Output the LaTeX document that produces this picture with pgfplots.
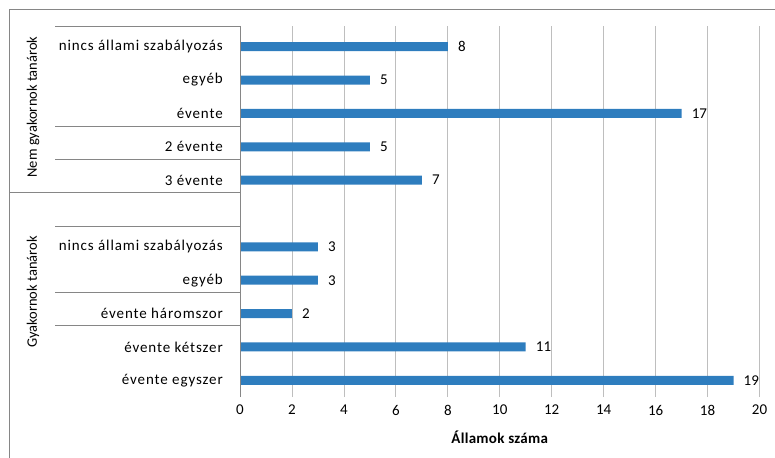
\documentclass[border=0pt]{standalone}
\usepackage{fontspec}
\setmainfont{Carlito}
\usepackage{pgfplots}
\pgfplotsset{compat=1.18}
\definecolor{barblue}{RGB}{46,125,190}
\definecolor{framegray}{RGB}{134,134,134}
\definecolor{gridgray}{RGB}{190,190,190}
\newcommand{\lblfont}{\fontsize{15}{17}\selectfont\addfontfeature{LetterSpace=6}}
\begin{document}
\fontsize{15}{17}\selectfont
\begin{tikzpicture}
\useasboundingbox (0pt,0pt) rectangle (775pt,-457pt);
% chart frame
\draw[framegray, line width=1pt] (9pt,-10pt) rectangle (790pt,-470pt);
\begin{axis}[
  at={(240pt,-397pt)}, anchor=south west,
  scale only axis, width=519.5pt, height=371pt,
  xbar, bar width=9pt,
  xmin=0, xmax=20, ymin=-0.5, ymax=10.62,
  xtick={0,2,...,20}, ytick={0,...,10},
  yticklabels={évente egyszer, évente kétszer, évente háromszor, egyéb, nincs állami szabályozás, {}, 3 évente, 2 évente, évente, egyéb, nincs állami szabályozás},
  major tick length=0pt,
  axis line style={draw=none},
  xmajorgrids, major grid style={gridgray, line width=0.8pt},
  /pgf/number format/assume math mode=true,
  xticklabel style={yshift=-3pt, font=\fontsize{15}{17}\selectfont},
  yticklabel style={xshift=-12pt, font=\lblfont},
  xlabel={\bfseries Államok száma},
  xlabel style={at={(axis description cs:0.5,0)}, anchor=center, yshift=-40pt, font=\fontsize{15}{17}\selectfont\addfontfeature{LetterSpace=2}},
  nodes near coords,
  nodes near coords style={anchor=west, xshift=5pt, font=\fontsize{15}{17}\selectfont, black},
  clip=false,
]
\addplot[fill=barblue, draw=none] coordinates {
  (19,0) (11,1) (2,2) (3,3) (3,4) (7,6) (5,7) (17,8) (5,9) (8,10)
};
\end{axis}
% category axis line and group separators
\draw[framegray, line width=0.8pt] (240pt,-26pt) -- (240pt,-397pt);
\draw[framegray, line width=0.8pt] (55pt,-26pt) -- (240pt,-26pt);
\draw[framegray, line width=0.8pt] (55pt,-126pt) -- (240pt,-126pt);
\draw[framegray, line width=0.8pt] (55pt,-159pt) -- (240pt,-159pt);
\draw[framegray, line width=0.8pt] (9pt,-192pt) -- (240pt,-192pt);
\draw[framegray, line width=0.8pt] (55pt,-226pt) -- (240pt,-226pt);
\draw[framegray, line width=0.8pt] (55pt,-292pt) -- (240pt,-292pt);
\draw[framegray, line width=0.8pt] (55pt,-325pt) -- (240pt,-325pt);
% group labels
\node[rotate=90, font=\fontsize{14.5}{17}\selectfont] at (33pt,-107pt) {Nem gyakornok tanárok};
\node[rotate=90, font=\fontsize{14.5}{17}\selectfont] at (33pt,-292pt) {Gyakornok tanárok};
\end{tikzpicture}
\end{document}
